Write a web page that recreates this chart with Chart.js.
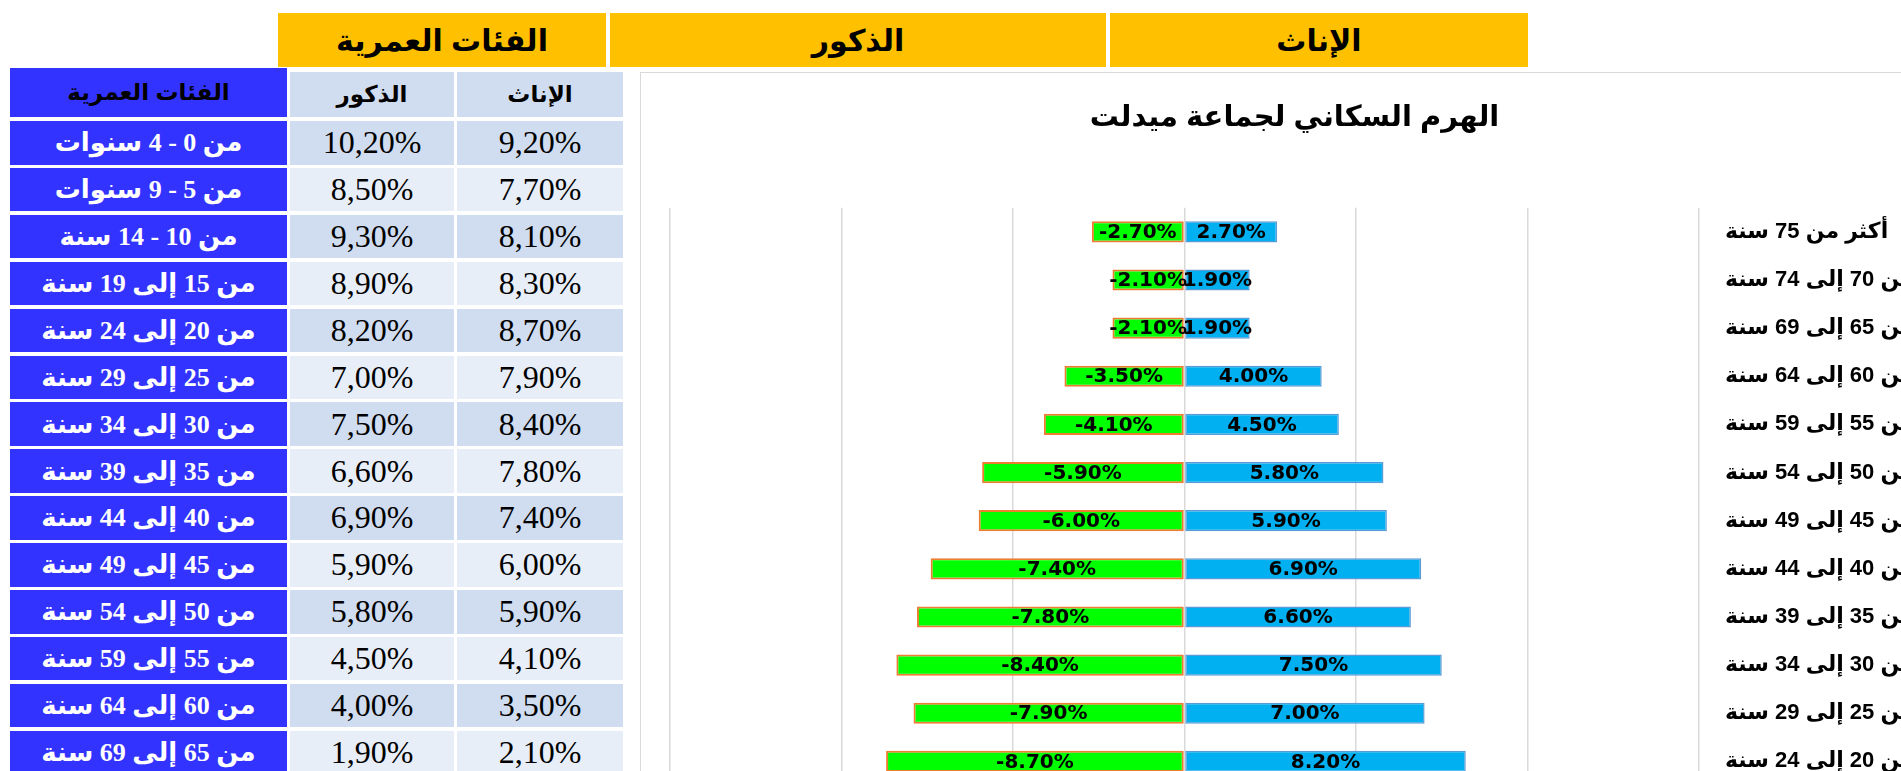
<!DOCTYPE html>
<html><head><meta charset="utf-8">
<script src="https://cdn.jsdelivr.net/npm/chart.js@4.4.1/dist/chart.umd.min.js"></script>
<style>
html,body{margin:0;padding:0;background:#fff;width:1901px;height:771px;overflow:hidden;position:relative;}
.c{position:absolute;box-sizing:border-box;display:flex;align-items:center;justify-content:center;white-space:nowrap;}
.yel{background:#FFC000;color:#000;font:bold 30px 'Liberation Sans','DejaVu Sans',sans-serif;}
.blue{background:#3333FF;color:#fff;font:bold 26px 'Liberation Serif','DejaVu Sans',serif;}
.bh{color:#000;font:bold 23px 'Liberation Sans','DejaVu Sans',sans-serif;}
.num{color:#000;font:32px 'Liberation Serif',serif;}
#box{position:absolute;left:640px;top:72px;width:1300px;height:1000px;border:1px solid #d9d9d9;box-sizing:border-box;}
#cv{position:absolute;left:0;top:0;}
</style></head><body>
<div id="box"><canvas id="cv" width="1278" height="960" style="width:1278px;height:960px"></canvas></div>
<script>
// ---- data ----
const ageGroups = [
  'من 0 - 4 سنوات','من 5 -  9 سنوات','من 10 - 14 سنة','من 15 إلى 19 سنة',
  'من 20 إلى 24 سنة','من 25 إلى 29 سنة','من 30 إلى 34 سنة','من 35 إلى 39 سنة',
  'من 40 إلى 44 سنة','من 45 إلى 49 سنة','من 50 إلى 54 سنة','من 55 إلى 59 سنة',
  'من 60 إلى 64 سنة','من 65 إلى 69 سنة','من 70 إلى 74 سنة','أكثر من 75 سنة'
];
const maleValues   = [10.2, 8.5, 9.3, 8.9, 8.2, 7.0, 7.5, 6.6, 6.9, 5.9, 5.8, 4.5, 4.0, 1.9, 1.9, 2.7];
const femaleValues = [ 9.2, 7.7, 8.1, 8.3, 8.7, 7.9, 8.4, 7.8, 7.4, 6.0, 5.9, 4.1, 3.5, 2.1, 2.1, 2.7];
const bannerTitles = ['الفئات العمرية','الذكور','الإناث'];
const tableHeaders = ['الفئات العمرية','الذكور','الإناث'];
const chartTitle = 'الهرم السكاني لجماعة ميدلت';
const xTickValues = [-15, -10, -5, 0, 5, 10, 15];

// ---- banner & table (spreadsheet cells) ----
function cell(cls, text, l, t, w, h, bg){
  const d = document.createElement('div');
  d.className = 'c ' + cls;
  d.style.left = l+'px'; d.style.top = t+'px'; d.style.width = w+'px'; d.style.height = h+'px';
  if (bg) d.style.background = bg;
  d.textContent = text;
  document.body.appendChild(d);
}
const bannerX = [[278,328],[610,496],[1110,418]];
bannerTitles.forEach((t,i)=>cell('yel', t, bannerX[i][0], 13, bannerX[i][1], 54));

const colBlue=[10,277], colM=[290,164], colF=[457,166];
const dark='#D0DCEF', light='#E8EEF8';
cell('bh', tableHeaders[0], colBlue[0], 68, colBlue[1], 49, '#3333FF');
cell('bh', tableHeaders[1], colM[0], 72, colM[1], 45, dark);
cell('bh', tableHeaders[2], colF[0], 72, colF[1], 45, dark);
const fmt = v => v.toFixed(2).replace('.', ',') + '%';
ageGroups.forEach((g,i)=>{
  const top = 121 + i*46.9, h = 43.5, bg = i%2===0 ? dark : light;
  cell('blue', g, colBlue[0], top, colBlue[1], h);
  cell('num', fmt(maleValues[i]), colM[0], top, colM[1], h, bg);
  cell('num', fmt(femaleValues[i]), colF[0], top, colF[1], h, bg);
});

// ---- chart ----
const barLabels = {
  id:'barLabels',
  afterDatasetsDraw(chart){
    const ctx = chart.ctx; ctx.save();
    ctx.font = 'bold 20px "DejaVu Sans", sans-serif';
    ctx.fillStyle = '#000'; ctx.textAlign = 'center'; ctx.textBaseline = 'middle';
    chart.data.datasets.forEach((ds,i)=>{
      chart.getDatasetMeta(i).data.forEach((el,j)=>{
        const v = ds.data[j];
        ctx.fillText(v.toFixed(2)+'%', (el.x+el.base)/2, el.y+1);
      });
    });
    ctx.restore();
  }
};

new Chart(document.getElementById('cv'), {
  type:'bar',
  data:{
    labels: ageGroups,
    datasets:[
      {label: tableHeaders[2], data: femaleValues.map(v=>-v), backgroundColor:'#00FF00', borderColor:'#ED7D31', borderWidth:2, borderSkipped:false},
      {label: tableHeaders[1], data: maleValues, backgroundColor:'#00B0F0', borderColor:'#5B9BD5', borderWidth:1.5, borderSkipped:false}
    ]
  },
  options:{
    indexAxis:'y', responsive:false, animation:false,
    layout:{padding:{left:29,right:0,top:0,bottom:55}},
    datasets:{bar:{barPercentage:0.44, categoryPercentage:1}},
    plugins:{
      legend:{display:false}, tooltip:{enabled:false},
      title:{display:true, text:chartTitle, color:'#000',
        font:{family:"'Liberation Sans','DejaVu Sans',sans-serif", size:29, weight:'bold', lineHeight:1.2},
        padding:{top:28,bottom:72}}
    },
    scales:{
      x:{stacked:true, min:-15, max:15,
        afterBuildTicks(s){ s.ticks = xTickValues.map(v=>({value:v})); },
        ticks:{display:false},
        grid:{color:'#d9d9d9', lineWidth:1.5, drawTicks:false},
        border:{display:false},
        afterFit(s){ s.height = 0; }},
      y:{stacked:true, position:'right', reverse:true,
        grid:{display:false, drawTicks:false}, border:{display:false},
        ticks:{color:'#000', padding:26, font:{family:"'Liberation Sans','DejaVu Sans',sans-serif", size:22, weight:'bold'}},
        afterFit(s){ s.width = 220; }}
    }
  },
  plugins:[barLabels]
});
</script>
</body></html>
